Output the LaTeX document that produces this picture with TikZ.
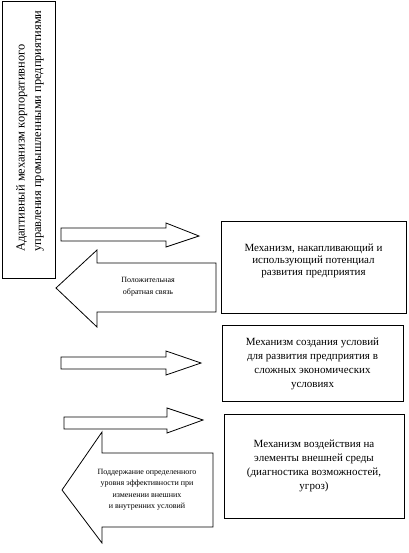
\documentclass[tikz,border=0pt]{standalone}
\usepackage{fontspec}
\setmainfont{Liberation Serif}
\begin{document}
\begin{tikzpicture}[x=1pt,y=-1pt,
  box/.style={draw,line width=0.9pt},
  blk/.style={draw,line width=0.8pt,line join=miter},
  boxtext/.style={align=center,font=\fontsize{11}{11.8}\selectfont,inner sep=0pt},
  boxtextw/.style={align=center,font=\fontsize{11}{14.2}\selectfont,inner sep=0pt},
  smalltext/.style={align=center,font=\fontsize{8}{11.5}\selectfont,inner sep=0pt}]
\useasboundingbox (0,0) rectangle (408,553);
% vertical box
\draw[box] (2,1) rectangle (55,278);
\node[rotate=90,anchor=west,align=left,font=\fontsize{12.4}{16.5}\selectfont,inner sep=0pt] (vt) at (30,252)
  {Адаптивный механизм корпоративного\\управления промышленными предприятиями};
% right boxes
\draw[box] (221,221) rectangle (406,313);
\node[boxtext] (b1) at (313.5,261) {Механизм, накапливающий и\\использующий потенциал\\развития предприятия};
\draw[box] (222,325) rectangle (403,401);
\node[boxtextw] (b2) at (312.5,364) {Механизм создания условий\\для развития предприятия в\\сложных экономических\\условиях};
\draw[box] (224,414) rectangle (404,518);
\node[boxtextw] (b3) at (314,466) {Механизм воздействия на\\элементы внешней среды\\(диагностика возможностей,\\угроз)};
% right arrows
\draw[blk] (61,228) -- (166,228) -- (166,223) -- (199,236) -- (166,247) -- (166,241) -- (61,241) -- cycle;
\draw[blk] (61,357) -- (166,357) -- (166,351) -- (201,363) -- (166,375) -- (166,369) -- (61,369) -- cycle;
\draw[blk] (64,417) -- (167,417) -- (167,408) -- (203,420) -- (167,433) -- (167,429) -- (64,429) -- cycle;
% left arrows
\draw[blk] (216,263) -- (97,263) -- (97,250) -- (56,288) -- (97,327) -- (97,312) -- (216,312) -- cycle;
\node[smalltext] (fb) at (148,286.5) {Положительная\\обратная связь};
\draw[blk] (213,453) -- (102,453) -- (102,432) -- (62,490) -- (102,543) -- (102,527) -- (213,527) -- cycle;
\node[smalltext] (sup) at (147,489.5) {Поддержание определенного\\уровня эффективности при\\изменении внешних\\и внутренних условий};
\end{tikzpicture}
\end{document}
